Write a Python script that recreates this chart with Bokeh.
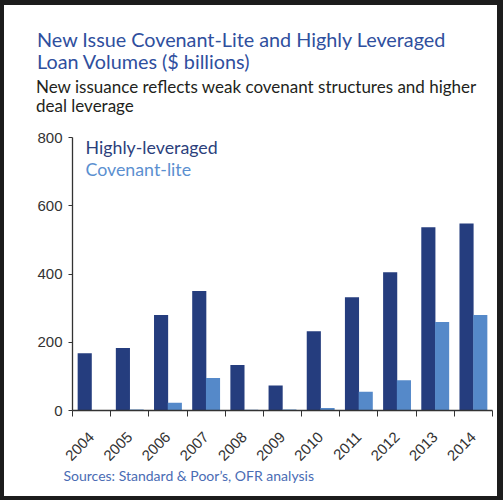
from math import pi

from bokeh.embed import file_html
from bokeh.layouts import column
from bokeh.resources import INLINE
from bokeh.plotting import figure
from bokeh.models import (ColumnDataSource, Div, FixedTicker, Label, Range1d,
                          Title)
from bokeh.transform import dodge

years = ["2004", "2005", "2006", "2007", "2008", "2009",
         "2010", "2011", "2012", "2013", "2014"]
highly_leveraged = [168, 183, 280, 350, 133, 73, 232, 332, 405, 537, 548]
covenant_lite = [1, 3, 23, 95, 2, 3, 7, 55, 89, 259, 280]
y_ticks = [0, 200, 400, 600, 800]

title_lines = ["New Issue Covenant-Lite and Highly Leveraged",
               "Loan Volumes ($ billions)"]
subtitle_lines = ["New issuance reflects weak covenant structures and higher",
                  "deal leverage"]
source_text = "Sources: Standard & Poor\u2019s, OFR analysis"

DARK = "#253d7e"
LIGHT = "#5589c9"
AXIS = "#333333"
HEAD_H = 130

centers = [i + 0.5 for i in range(len(years))]
src = ColumnDataSource(data=dict(x=centers, hl=highly_leveraged,
                                 cl=covenant_lite))


def line_html(text, left, baseline, size, color):
    # Lato ascent is 0.987em with line-height normal
    top = baseline - 0.987 * size
    return ('<div style="position:absolute; left:%.1fpx; top:%.1fpx; '
            'font-family:Lato; font-size:%.1fpx; line-height:normal; '
            'color:%s; white-space:nowrap;">%s</div>'
            % (left, top, size, color, text))


head_html = "".join([
    line_html(title_lines[0], 37, 46, 19.8, "#2f4f9e"),
    line_html(title_lines[1], 37, 68.7, 19.8, "#2f4f9e"),
    line_html(subtitle_lines[0], 36, 92.7, 17, "#231f20"),
    line_html(subtitle_lines[1], 36, 111.7, 17, "#231f20"),
])
head = Div(text='<div style="position:relative; width:503px; height:%dpx;">'
                '%s</div>' % (HEAD_H, head_html),
           width=503, height=HEAD_H, margin=0)

p = figure(width=503, height=500 - HEAD_H, output_backend="svg",
           toolbar_location=None, tools="", title=None,
           x_range=Range1d(0, len(years)), y_range=Range1d(0, 800),
           min_border_left=72, min_border_right=11, min_border_top=137 - HEAD_H,
           min_border_bottom=90, background_fill_alpha=0,
           border_fill_alpha=0, outline_line_color=None, margin=0)

p.vbar(x=dodge("x", -0.18, range=p.x_range), top="hl", width=0.37,
       bottom=0, source=src, fill_color=DARK, line_color=None)
p.vbar(x=dodge("x", 0.18, range=p.x_range), top="cl", width=0.37,
       bottom=0, source=src, fill_color=LIGHT, line_color=None)

p.grid.grid_line_color = None

# x axis: labels at category centers, tick marks between categories
p.xaxis.ticker = FixedTicker(ticks=centers,
                             minor_ticks=list(range(len(years) + 1)))
p.xaxis.major_label_overrides = {c: y for c, y in zip(centers, years)}
p.xaxis.major_tick_out = 0
p.xaxis.major_tick_in = 0
p.xaxis.minor_tick_out = 6
p.xaxis.minor_tick_in = 0
p.xaxis.minor_tick_line_color = AXIS
p.xaxis.major_label_orientation = pi / 4
p.xaxis.major_label_standoff = 18

p.yaxis.ticker = FixedTicker(ticks=y_ticks)
p.yaxis.major_tick_out = 4
p.yaxis.major_tick_in = 0
p.yaxis.minor_tick_out = 0
p.yaxis.minor_tick_in = 0
p.yaxis.major_label_standoff = 6

for ax in (p.xaxis, p.yaxis):
    ax.axis_line_color = AXIS
    ax.axis_line_width = 1.3
    ax.major_tick_line_color = AXIS
    ax.major_label_text_color = "#333333"
    ax.major_label_text_font = "Liberation Sans"
    ax.major_label_text_font_size = "15px"

p.add_layout(Title(text=source_text, text_font="Lato", text_font_size="14px",
                   text_color="#4a6cb4", text_font_style="normal",
                   align="left", offset=-9, standoff=-8), "below")

for text, y, color in [("Highly-leveraged", 264, "#2c3f7c"),
                       ("Covenant-lite", 242, "#5b8fd0")]:
    p.add_layout(Label(x=13, y=y, x_units="screen", y_units="screen",
                       text=text, text_font="Lato", text_font_size="17.8px",
                       text_color=color, text_baseline="alphabetic"))

# dark frame round the card, drawn as inset shadows behind transparent canvases
page = column(head, p, spacing=0,
              styles={"background": "white",
                      "box-shadow": "inset 4px 5px 0 0 #1c1c1c, "
                                    "inset -6px -4px 0 0 #1c1c1c"})

open("out.html", "w").write(file_html(page, INLINE))
